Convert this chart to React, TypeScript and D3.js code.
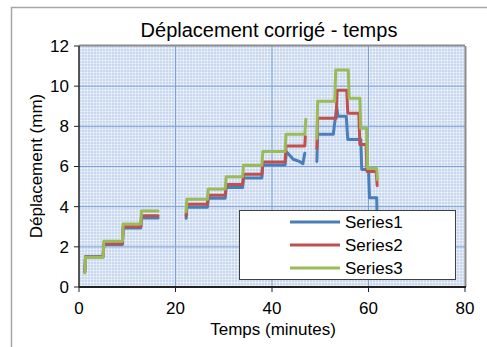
import React from "react";
import * as d3 from "d3";

const title = "Déplacement corrigé - temps";
const xTitle = "Temps (minutes)";
const yTitle = "Déplacement (mm)";
const xTicks = [0, 20, 40, 60, 80];
const yTicks = [0, 2, 4, 6, 8, 10, 12];
const seriesNames = ["Series1", "Series2", "Series3"];
const seriesColors = ["#4a7ebb", "#c0504d", "#9bbb59"];

type P = [number, number] | null;

const series1: P[] = [
  [1.2, 0.75], [1.35, 1.52], [5.0, 1.52], [5.15, 2.12], [9.0, 2.12], [9.15, 2.94], [12.8, 2.94], [12.95, 3.44], [16.4, 3.44],
  null,
  [22.2, 3.42], [22.35, 3.97], [26.6, 3.97], [26.8, 4.42], [30.3, 4.42], [30.5, 4.95], [33.9, 4.95], [34.1, 5.43], [37.9, 5.43],
  [38.1, 6.08], [42.7, 6.08], [43.0, 6.74], [44.4, 6.36], [45.8, 6.24], [46.4, 6.14], [46.8, 6.66],
  null,
  [49.3, 6.25], [49.45, 7.6], [52.7, 7.6], [53.4, 8.95], [53.7, 8.5], [55.4, 8.5], [55.7, 7.35], [58.4, 7.35], [58.6, 5.85],
  [60.0, 5.85], [60.2, 4.45], [61.7, 4.45], [61.9, 2.0],
];

const series2: P[] = [
  [1.2, 0.75], [1.35, 1.5], [5.0, 1.5], [5.15, 2.15], [9.0, 2.15], [9.15, 3.0], [12.8, 3.0], [12.95, 3.55], [16.4, 3.55],
  null,
  [22.2, 3.55], [22.35, 4.12], [26.6, 4.12], [26.8, 4.57], [30.3, 4.57], [30.5, 5.1], [33.9, 5.1], [34.1, 5.61], [37.9, 5.61],
  [38.1, 6.22], [42.7, 6.22], [42.9, 7.02], [46.8, 7.02], [46.9, 7.5],
  null,
  [49.3, 6.9], [49.45, 8.4], [53.3, 8.4], [53.5, 9.8], [55.5, 9.8], [55.7, 8.65], [58.0, 8.65], [58.2, 7.1], [59.5, 7.1],
  [59.7, 5.75], [61.6, 5.75], [61.8, 5.05],
];

const series3: P[] = [
  [1.2, 0.7], [1.35, 1.48], [5.0, 1.48], [5.15, 2.28], [9.0, 2.28], [9.15, 3.14], [12.8, 3.14], [12.95, 3.78], [16.4, 3.78],
  null,
  [22.2, 3.75], [22.35, 4.37], [26.6, 4.37], [26.8, 4.88], [30.3, 4.88], [30.5, 5.49], [33.9, 5.49], [34.1, 6.06], [37.9, 6.06],
  [38.1, 6.75], [42.7, 6.75], [42.9, 7.6], [46.8, 7.6], [47.0, 8.35],
  null,
  [49.3, 7.4], [49.45, 9.25], [53.0, 9.25], [53.2, 10.8], [55.8, 10.8], [56.0, 9.4], [58.2, 9.4], [58.4, 7.9], [59.6, 7.9],
  [59.8, 5.9], [61.7, 5.9], [61.85, 5.35],
];

const allSeries = [series1, series2, series3];

const W = 487;
const H = 347;
const plot = { left: 79, right: 465, top: 46, bottom: 287 };
const FONT = "'Liberation Sans', Arial, sans-serif";

export default function App() {
  const x = d3.scaleLinear().domain([0, 80]).range([plot.left, plot.right]);
  const y = d3.scaleLinear().domain([0, 12]).range([plot.bottom, plot.top]);
  const line = d3
    .line<P>()
    .defined((d) => d !== null)
    .x((d) => x((d as [number, number])[0]))
    .y((d) => y((d as [number, number])[1]));

  const pw = plot.right - plot.left;
  const ph = plot.bottom - plot.top;

  return (
    <svg
      width={W}
      height={H}
      style={{ position: "absolute", left: 0, top: 0, background: "#fff", fontFamily: FONT }}
    >
      <defs>
        <pattern id="grid" width={3} height={3} patternUnits="userSpaceOnUse" x={plot.left} y={plot.top}>
          <rect width={3} height={3} fill="#c9d8ee" />
          <rect x={2} width={1} height={3} fill="#ffffff" opacity={0.4} />
          <rect y={2} width={3} height={1} fill="#ffffff" opacity={0.4} />
        </pattern>
        <pattern id="dots" width={6} height={6} patternUnits="userSpaceOnUse" x={plot.left} y={plot.top}>
          <rect x={2} y={2} width={1} height={1} fill="#ffffff" opacity={0.9} />
        </pattern>
        <clipPath id="clip">
          <rect x={plot.left} y={plot.top} width={pw} height={ph} />
        </clipPath>
      </defs>

      {/* outer chart border */}
      <rect x={11.5} y={7.5} width={600} height={500} fill="#fff" stroke="#a6a6a6" strokeWidth={1.5} />

      {/* title */}
      <text x={269} y={37} textAnchor="middle" fontSize={20} fill="#000">
        {title}
      </text>

      {/* plot area */}
      <rect x={plot.left} y={plot.top} width={pw} height={ph} fill="url(#grid)" />
      <rect x={plot.left} y={plot.top} width={pw} height={ph} fill="url(#dots)" />

      {/* major gridlines */}
      {yTicks
        .filter((t) => t > 0 && t < 12)
        .map((t) => (
          <line key={"gy" + t} x1={plot.left} x2={plot.right} y1={y(t)} y2={y(t)} stroke="#7ba2d6" strokeWidth={1} />
        ))}
      {xTicks
        .filter((t) => t > 0 && t < 80)
        .map((t) => (
          <line key={"gx" + t} x1={x(t)} x2={x(t)} y1={plot.top} y2={plot.bottom} stroke="#7ba2d6" strokeWidth={1} />
        ))}

      {/* plot border top/right */}
      <line x1={plot.left} x2={plot.right} y1={plot.top - 0.5} y2={plot.top - 0.5} stroke="#8c8c8c" strokeWidth={2} />
      <line x1={plot.right + 0.5} x2={plot.right + 0.5} y1={plot.top} y2={plot.bottom} stroke="#8c8c8c" strokeWidth={2} />

      {/* series */}
      <g clipPath="url(#clip)">
        {allSeries.map((s, i) => (
          <path
            key={"s" + i}
            d={line(s) || ""}
            fill="none"
            stroke={seriesColors[i]}
            strokeWidth={3}
            strokeLinejoin="round"
            strokeLinecap="round"
          />
        ))}
      </g>

      {/* axes */}
      <line x1={plot.left} x2={plot.left} y1={plot.top} y2={plot.bottom} stroke="#222" strokeWidth={1.5} />
      <line x1={plot.left} x2={plot.right + 1} y1={plot.bottom} y2={plot.bottom} stroke="#222" strokeWidth={2} />
      {yTicks.map((t) => (
        <g key={"yt" + t}>
          <line x1={plot.left - 5} x2={plot.left} y1={y(t)} y2={y(t)} stroke="#222" strokeWidth={1} />
          <text x={plot.left - 10} y={y(t)} dy="0.35em" textAnchor="end" fontSize={17} fill="#000">
            {t}
          </text>
        </g>
      ))}
      {xTicks.map((t) => (
        <g key={"xt" + t}>
          <line x1={x(t)} x2={x(t)} y1={plot.bottom} y2={plot.bottom + 5} stroke="#222" strokeWidth={1} />
          <text x={x(t)} y={plot.bottom + 27} textAnchor="middle" fontSize={17} fill="#000">
            {t}
          </text>
        </g>
      ))}

      {/* axis titles */}
      <text x={273} y={335} textAnchor="middle" fontSize={17} fill="#000">
        {xTitle}
      </text>
      <text transform={`translate(42,166) rotate(-90)`} textAnchor="middle" fontSize={17} fill="#000">
        {yTitle}
      </text>

      {/* legend */}
      <rect x={239.5} y={210.5} width={216} height={69} fill="#fff" stroke="#404040" strokeWidth={1} />
      {seriesNames.map((n, i) => (
        <g key={"lg" + i}>
          <line x1={290} x2={340} y1={222 + i * 23} y2={222 + i * 23} stroke={seriesColors[i]} strokeWidth={3} />
          <text x={345} y={222 + i * 23} dy="0.35em" fontSize={17} fill="#000">
            {n}
          </text>
        </g>
      ))}
    </svg>
  );
}
